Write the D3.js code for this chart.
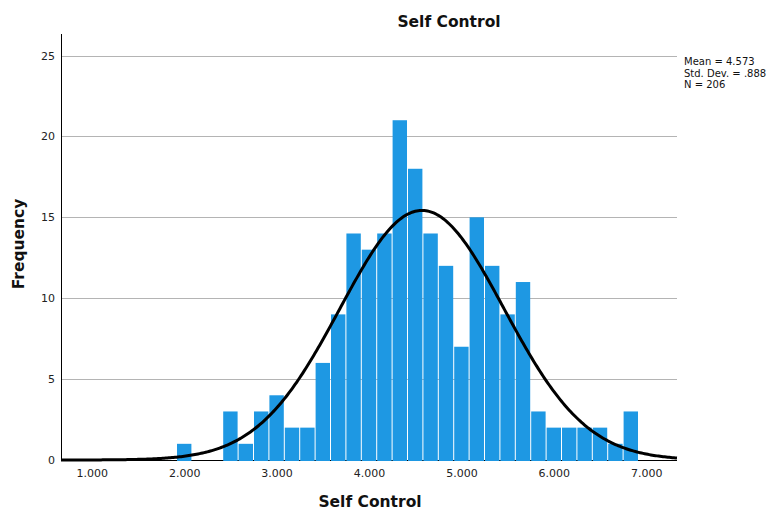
<!DOCTYPE html>
<html>
<head>
<meta charset="utf-8">
<script src="https://cdn.jsdelivr.net/npm/d3@7"></script>
<style>
  html, body { margin: 0; padding: 0; background: #fff; }
  svg { display: block; font-family: "DejaVu Sans", Verdana, sans-serif; }
</style>
</head>
<body>
<svg id="chart" width="780" height="512"></svg>
<script>
// Histogram of Self Control scores with fitted normal curve
const title = "Self Control";
const xLabel = "Self Control";
const yLabel = "Frequency";

// Bin centres (score) and frequencies
const binWidth = 1 / 6;
const binCenters = d3.range(30).map(i => 2 + i / 6);
const counts = [1, 0, 0, 3, 1, 3, 4, 2, 2, 6, 9, 14, 13, 14, 21, 18, 14, 12, 7, 15, 12, 9, 11, 3, 2, 2, 2, 2, 1, 3];

// Summary statistics
const mean = 4.573;
const stdDev = 0.888;
const n = 206;
const statsLines = ["Mean = 4.573", "Std. Dev. = .888", "N = 206"];

const xTicks = [1, 2, 3, 4, 5, 6, 7];
const yTicks = [0, 5, 10, 15, 20, 25];
const xDomain = [2 / 3, 22 / 3];
const yDomain = [0, 26.33];

const svg = d3.select("#chart");
const plot = { left: 61, right: 677, top: 34, bottom: 460 };

const x = d3.scaleLinear().domain(xDomain).range([plot.left, plot.right]);
const y = d3.scaleLinear().domain(yDomain).range([plot.bottom, plot.top]);

// Horizontal gridlines
svg.append("g")
  .selectAll("line")
  .data(yTicks.filter(d => d > 0))
  .join("line")
  .attr("x1", plot.left).attr("x2", plot.right)
  .attr("y1", d => Math.round(y(d)) + 0.5).attr("y2", d => Math.round(y(d)) + 0.5)
  .attr("stroke", "#b4b4b4").attr("stroke-width", 1);

// Baseline
svg.append("line")
  .attr("x1", plot.left).attr("x2", plot.right)
  .attr("y1", plot.bottom + 0.5).attr("y2", plot.bottom + 0.5)
  .attr("stroke", "#000").attr("stroke-width", 1);

// Bars
const bins = binCenters.map((c, i) => ({ x0: c - binWidth / 2, x1: c + binWidth / 2, count: counts[i] }));
svg.append("g")
  .selectAll("rect")
  .data(bins.filter(d => d.count > 0))
  .join("rect")
  .attr("x", d => x(d.x0) + 0.5)
  .attr("width", d => x(d.x1) - x(d.x0) - 1)
  .attr("y", d => y(d.count))
  .attr("height", d => y(0) - y(d.count) + 1)
  .attr("fill", "#1e98e3");

// Y axis line
svg.append("line")
  .attr("x1", plot.left + 0.5).attr("x2", plot.left + 0.5)
  .attr("y1", plot.top).attr("y2", plot.bottom + 1)
  .attr("stroke", "#000").attr("stroke-width", 1);

// Normal curve scaled to frequency
const pdf = v => Math.exp(-0.5 * ((v - mean) / stdDev) ** 2) / (stdDev * Math.sqrt(2 * Math.PI));
const curvePts = d3.range(0, 401).map(i => {
  const v = xDomain[0] + (xDomain[1] - xDomain[0]) * i / 400;
  return [v, n * binWidth * pdf(v)];
});
svg.append("path")
  .datum(curvePts)
  .attr("d", d3.line().x(d => x(d[0])).y(d => y(d[1])))
  .attr("fill", "none").attr("stroke", "#000").attr("stroke-width", 3);

// Axis tick labels
const yAxis = d3.axisLeft(y).tickValues(yTicks).tickSize(0).tickPadding(6).tickFormat(d3.format("d"));
const gy = svg.append("g").attr("transform", `translate(${plot.left},0)`).call(yAxis);
gy.select(".domain").remove();
gy.selectAll("text").attr("font-size", 11).attr("fill", "#222").attr("font-family", "DejaVu Sans");

const xAxis = d3.axisBottom(x).tickValues(xTicks).tickSize(0).tickPadding(9).tickFormat(d3.format(".3f"));
const gx = svg.append("g").attr("transform", `translate(0,${plot.bottom})`).call(xAxis);
gx.select(".domain").remove();
gx.selectAll("text").attr("font-size", 11).attr("fill", "#222").attr("font-family", "DejaVu Sans");

// Titles
svg.append("text")
  .attr("x", 449).attr("y", 27)
  .attr("text-anchor", "middle")
  .attr("font-size", 15.5).attr("font-weight", "bold").attr("fill", "#111")
  .text(title);

svg.append("text")
  .attr("x", 370).attr("y", 507)
  .attr("text-anchor", "middle")
  .attr("font-size", 15.5).attr("font-weight", "bold").attr("fill", "#111")
  .text(xLabel);

svg.append("text")
  .attr("transform", "translate(24,244) rotate(-90)")
  .attr("text-anchor", "middle")
  .attr("font-size", 15.5).attr("font-weight", "bold").attr("fill", "#111")
  .text(yLabel);

// Statistics box
svg.append("g")
  .selectAll("text")
  .data(statsLines)
  .join("text")
  .attr("x", 684)
  .attr("y", (d, i) => 65 + i * 11.5)
  .attr("font-size", 10).attr("fill", "#111")
  .text(d => d);
</script>
</body>
</html>
